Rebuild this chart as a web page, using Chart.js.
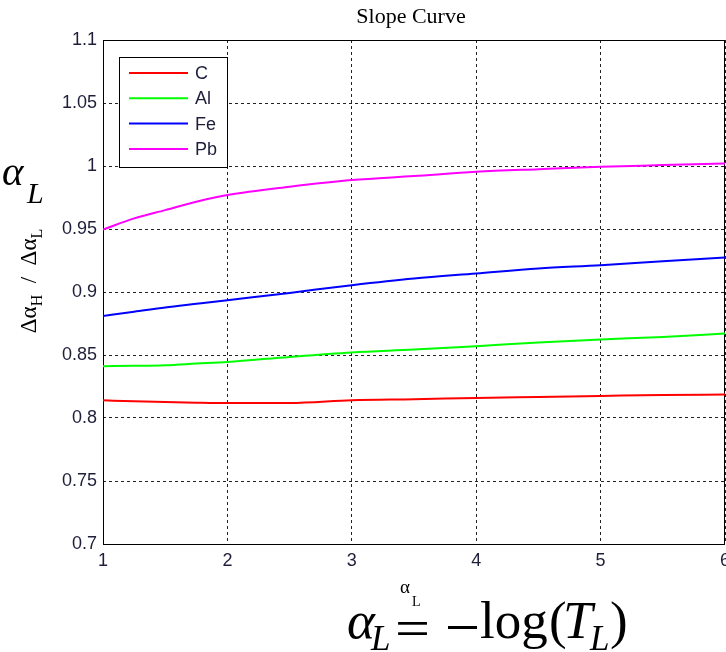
<!DOCTYPE html>
<html>
<head>
<meta charset="utf-8">
<script src="https://cdn.jsdelivr.net/npm/chart.js@4.4.1/dist/chart.umd.min.js"></script>
<style>
  body { margin: 0; background: #fff; }
  canvas { display: block; }
</style>
</head>
<body>
<canvas id="slopeChart" width="726" height="652"></canvas>
<script>
// values
const xs = [1, 1.25, 1.5, 1.75, 2, 2.5, 3, 3.5, 4, 4.5, 5, 5.5, 6]
const cVals = [0.8141, 0.8132, 0.8127, 0.8122, 0.8119, 0.8119, 0.8141, 0.8149, 0.8159, 0.8167, 0.8175, 0.8183, 0.8186]
const alVals = [0.8411, 0.8414, 0.8419, 0.8432, 0.8445, 0.8485, 0.852, 0.8543, 0.857, 0.8599, 0.8623, 0.8643, 0.867]
const feVals = [0.881, 0.8843, 0.8877, 0.8906, 0.8935, 0.8993, 0.9054, 0.9107, 0.9147, 0.9187, 0.9213, 0.9245, 0.9274]
const pbVals = [0.9496, 0.9584, 0.965, 0.9716, 0.9769, 0.9835, 0.9888, 0.992, 0.9954, 0.9975, 0.9994, 1.0007, 1.002]

const seriesNames = ['C', 'Al', 'Fe', 'Pb']
const seriesColors = ['#ff0000', '#00ff00', '#0000ff', '#ff00ff']
const xTicks = [1, 2, 3, 4, 5, 6]
const yTicks = [0.7, 0.75, 0.8, 0.85, 0.9, 0.95, 1, 1.05, 1.1]

const toPoints = vals => vals.map((v, i) => ({ x: xs[i], y: v }))
const allVals = [cVals, alVals, feVals, pbVals]

const TICK_FONT = { family: '"Liberation Sans", Arial, sans-serif', size: 18 }
const TICK_COLOR = '#1e1e3a'

// frame, title, axis labels, legend box and the big formulas
const decorPlugin = {
  id: 'decor',
  beforeDatasetsDraw (chart) {
    const { ctx, chartArea: a } = chart
    ctx.save()
    ctx.strokeStyle = '#000'
    ctx.lineWidth = 1
    ctx.strokeRect(Math.round(a.left) + 0.5, Math.round(a.top) + 0.5, Math.round(a.right - a.left) - 1, Math.round(a.bottom - a.top))
    ctx.restore()
  },
  afterDraw (chart) {
    const { ctx } = chart
    const serif = '"Liberation Serif", "Times New Roman", serif'
    ctx.save()
    ctx.fillStyle = '#000'

    // title
    ctx.font = '22px ' + serif
    ctx.textAlign = 'center'
    ctx.textBaseline = 'alphabetic'
    ctx.fillText('Slope Curve', 411, 23)

    // x axis label  α_L
    ctx.textAlign = 'left'
    ctx.font = '19px ' + serif
    ctx.fillText('α', 400, 593)
    ctx.font = '14px ' + serif
    ctx.fillText('L', 412, 606)

    // y axis label  Δα_H / Δα_L (rotated)
    ctx.save()
    ctx.translate(36, 281)
    ctx.rotate(-Math.PI / 2)
    const parts = [
      { t: 'Δα', f: '23px ' + serif, dy: 0 },
      { t: 'H', f: '16px ' + serif, dy: 6 },
      { t: '\u2002/\u2002Δα', f: '23px ' + serif, dy: 0 },
      { t: 'L', f: '16px ' + serif, dy: 6 }
    ]
    let w = 0
    parts.forEach(p => { ctx.font = p.f; w += ctx.measureText(p.t).width })
    let px = -w / 2
    parts.forEach(p => {
      ctx.font = p.f
      ctx.fillText(p.t, px, p.dy)
      px += ctx.measureText(p.t).width
    })
    ctx.restore()

    // big α_L at top left
    ctx.font = 'italic 41px ' + serif
    ctx.fillText('α', 2, 185)
    ctx.font = 'italic 30px ' + serif
    ctx.fillText('L', 27, 203)

    // big formula at the bottom
    ctx.font = 'italic 53px ' + serif
    ctx.fillText('α', 347, 638)
    ctx.font = 'italic 35px ' + serif
    ctx.fillText('L', 371, 650)
    ctx.font = '53px ' + serif
    ctx.save()
    ctx.translate(395, 0)
    ctx.scale(35 / ctx.measureText('=').width, 1)
    ctx.fillText('=', 0, 646)
    ctx.restore()
    ctx.fillRect(448, 626, 29, 3)
    ctx.fillText('log', 480, 638)
    ctx.fillText('(', 549, 638)
    ctx.font = 'italic 53px ' + serif
    ctx.fillText('T', 563, 638)
    ctx.font = 'italic 35px ' + serif
    ctx.fillText('L', 590, 650)
    ctx.font = '53px ' + serif
    ctx.fillText(')', 610, 638)

    // legend
    const lx = 119, ly = 57, lw = 108, lh = 110
    ctx.fillStyle = '#fff'
    ctx.fillRect(lx, ly, lw, lh)
    ctx.strokeStyle = '#000'
    ctx.lineWidth = 1
    ctx.strokeRect(lx + 0.5, ly + 0.5, lw, lh)
    ctx.font = '18px "Liberation Sans", Arial, sans-serif'
    ctx.textBaseline = 'middle'
    chart.data.datasets.forEach((ds, i) => {
      const y = 73 + i * 25.3
      ctx.strokeStyle = ds.borderColor
      ctx.lineWidth = 2
      ctx.beginPath()
      ctx.moveTo(129, y)
      ctx.lineTo(188, y)
      ctx.stroke()
      ctx.fillStyle = '#1e1e3a'
      ctx.fillText(ds.label, 195, y + 1)
    })
    ctx.restore()
  }
}

// eslint-disable-next-line no-unused-vars
const slopeChart = new Chart(document.getElementById('slopeChart'), {
  type: 'line',
  data: {
    datasets: seriesNames.map((name, i) => ({
      label: name,
      data: toPoints(allVals[i]),
      borderColor: seriesColors[i],
      backgroundColor: seriesColors[i],
      borderWidth: 2,
      pointRadius: 0,
      cubicInterpolationMode: 'monotone',
      fill: false
    }))
  },
  options: {
    responsive: false,
    animation: false,
    layout: { padding: { top: 40, right: 1, bottom: 0, left: 0 } },
    plugins: {
      legend: { display: false },
      title: { display: false },
      tooltip: { enabled: false }
    },
    scales: {
      x: {
        type: 'linear',
        min: 1,
        max: 6,
        afterBuildTicks: s => { s.ticks = xTicks.map(v => ({ value: v })) },
        afterFit: s => { s.height = 108; s.paddingLeft = 0; s.paddingRight = 0 },
        ticks: { font: TICK_FONT, color: TICK_COLOR, padding: 6, maxRotation: 0, callback: v => String(v) },
        grid: { color: '#222', lineWidth: 1, drawTicks: false },
        border: { display: false, dash: [3, 3] }
      },
      y: {
        min: 0.7,
        max: 1.1,
        afterBuildTicks: s => { s.ticks = yTicks.map(v => ({ value: v })) },
        afterFit: s => { s.width = 103; s.paddingTop = 0; s.paddingBottom = 0 },
        ticks: { font: TICK_FONT, color: TICK_COLOR, padding: 6, callback: v => String(+v.toFixed(2)) },
        grid: { color: '#222', lineWidth: 1, drawTicks: false },
        border: { display: false, dash: [3, 3] }
      }
    }
  },
  plugins: [decorPlugin]
})
</script>
</body>
</html>
